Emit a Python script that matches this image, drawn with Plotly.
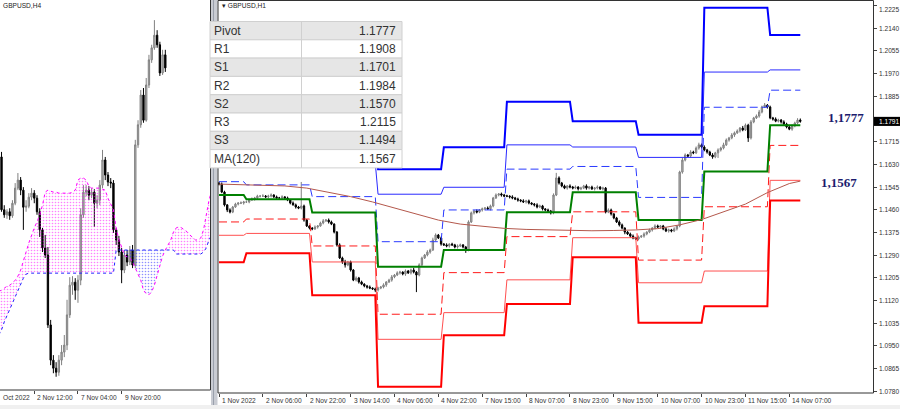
import plotly.graph_objects as go

W, H = 900, 409

# ---------------- Left panel: GBPUSD,H4 (bar index 0 = 28 Oct 20:00) ----------------
h4_first_bar = 4
h4_first_open = 1.1588
h4_close = [1.1483, 1.1473, 1.1479, 1.1471, 1.1496, 1.1526, 1.1542, 1.1522, 1.1488, 1.1490,
            1.1508, 1.1516, 1.1506, 1.1479, 1.1443, 1.1407, 1.1393, 1.1254, 1.1184, 1.1168,
            1.1160, 1.1184, 1.1200, 1.1214, 1.1274, 1.1333, 1.1339, 1.1323, 1.1343, 1.1473,
            1.1518, 1.1522, 1.1512, 1.1518, 1.1496, 1.1502, 1.1532, 1.1582, 1.1552, 1.1538,
            1.1536, 1.1443, 1.1423, 1.1399, 1.1363, 1.1393, 1.1379, 1.1403, 1.1373, 1.1612,
            1.1652, 1.1711, 1.1661, 1.1731, 1.1781, 1.1805, 1.1830, 1.1811, 1.1755, 1.1791,
            1.1765]
h4_high = [1.1598, 1.1492, 1.1484, 1.1486, 1.1502, 1.1536, 1.1556, 1.1548, 1.1528, 1.1502,
           1.1516, 1.1526, 1.1522, 1.1512, 1.1486, 1.1447, 1.1433, 1.1409, 1.1264, 1.1194,
           1.1180, 1.1194, 1.1214, 1.1234, 1.1304, 1.1349, 1.1351, 1.1347, 1.1353, 1.1486,
           1.1532, 1.1532, 1.1530, 1.1526, 1.1524, 1.1512, 1.1542, 1.1602, 1.1588, 1.1558,
           1.1546, 1.1542, 1.1447, 1.1431, 1.1407, 1.1403, 1.1403, 1.1411, 1.1413, 1.1622,
           1.1661, 1.1721, 1.1725, 1.1745, 1.1791, 1.1811, 1.1860, 1.1840, 1.1817, 1.1801,
           1.1801]
h4_low = [1.1479, 1.1467, 1.1465, 1.1463, 1.1467, 1.1492, 1.1522, 1.1512, 1.1443, 1.1479,
          1.1486, 1.1502, 1.1496, 1.1473, 1.1429, 1.1399, 1.1387, 1.1248, 1.1174, 1.1158,
          1.1151, 1.1153, 1.1174, 1.1190, 1.1204, 1.1268, 1.1314, 1.1304, 1.1298, 1.1333,
          1.1467, 1.1510, 1.1502, 1.1506, 1.1449, 1.1486, 1.1492, 1.1526, 1.1542, 1.1530,
          1.1526, 1.1437, 1.1413, 1.1391, 1.1337, 1.1357, 1.1371, 1.1373, 1.1367, 1.1367,
          1.1606, 1.1646, 1.1656, 1.1658, 1.1725, 1.1775, 1.1801, 1.1805, 1.1749, 1.1751,
          1.1757]

cloud_first_bar = 3
span_a = [1.1321, 1.1323, 1.1327, 1.1331, 1.1333, 1.1337, 1.1343, 1.1351, 1.1363, 1.1379,
          1.1399, 1.1417, 1.1433, 1.1447, 1.1459, 1.1473, 1.1492, 1.1518, 1.1522, 1.1520,
          1.1518, 1.1518, 1.1516, 1.1516, 1.1516, 1.1516, 1.1516, 1.1518, 1.1522, 1.1542,
          1.1546, 1.1546, 1.1542, 1.1530, 1.1526, 1.1526, 1.1526, 1.1526, 1.1524, 1.1522,
          1.1506, 1.1496, 1.1483, 1.1447, 1.1423, 1.1409, 1.1393, 1.1389, 1.1387, 1.1379,
          1.1367, 1.1353, 1.1343, 1.1323, 1.1316, 1.1314, 1.1320, 1.1333, 1.1353, 1.1373,
          1.1391, 1.1403, 1.1413, 1.1423, 1.1439, 1.1447, 1.1449, 1.1447, 1.1443, 1.1439,
          1.1433, 1.1427, 1.1423, 1.1423, 1.1427, 1.1443, 1.1473, 1.1502, 1.1522]
span_b = [1.1234, 1.1244, 1.1260, 1.1272, 1.1284, 1.1298, 1.1310, 1.1323, 1.1335, 1.1347,
          1.1355, 1.1357, 1.1357, 1.1357, 1.1357, 1.1357, 1.1357, 1.1357, 1.1357, 1.1357,
          1.1357, 1.1357, 1.1357, 1.1357, 1.1357, 1.1357, 1.1357, 1.1357, 1.1357, 1.1357,
          1.1357, 1.1357, 1.1357, 1.1357, 1.1357, 1.1357, 1.1357, 1.1357, 1.1357, 1.1357,
          1.1357, 1.1357, 1.1357, 1.1403, 1.1403, 1.1403, 1.1403, 1.1403, 1.1403, 1.1403,
          1.1403, 1.1403, 1.1403, 1.1403, 1.1403, 1.1403, 1.1403, 1.1403, 1.1403, 1.1403,
          1.1403, 1.1403, 1.1403, 1.1403, 1.1403, 1.1395, 1.1395, 1.1395, 1.1395, 1.1395,
          1.1395, 1.1395, 1.1395, 1.1395, 1.1395, 1.1399, 1.1407, 1.1423, 1.1433]

h4_tick_bars = [0, 16, 32, 48]
h4_tick_labels = ["Oct 2022", "2 Nov 12:00", "7 Nov 04:00", "9 Nov 20:00"]

# ---------------- Right panel: GBPUSD,H1 (bar index 0 = 1 Nov 14:00) ----------------
h1_first_open = 1.1560
h1_close = [
    # 1 Nov
    1.1556, 1.1526, 1.1478, 1.1459, 1.1451, 1.1470, 1.1481, 1.1485, 1.1485, 1.1489,
    # 2 Nov
    1.1489, 1.1496, 1.1500, 1.1504, 1.1511, 1.1511, 1.1511, 1.1508, 1.1511, 1.1515,
    1.1508, 1.1504, 1.1504, 1.1508, 1.1504, 1.1496, 1.1485, 1.1478, 1.1470, 1.1466,
    1.1474, 1.1421, 1.1399, 1.1391,
    # 3 Nov
    1.1388, 1.1395, 1.1399, 1.1410, 1.1418, 1.1421, 1.1414, 1.1406, 1.1376, 1.1328,
    1.1279, 1.1264, 1.1253, 1.1264, 1.1234, 1.1196, 1.1204, 1.1189, 1.1181, 1.1174,
    1.1170, 1.1166, 1.1163, 1.1159,
    # 4 Nov
    1.1166, 1.1170, 1.1178, 1.1189, 1.1196, 1.1208, 1.1215, 1.1223, 1.1226, 1.1219,
    1.1230, 1.1223, 1.1234, 1.1226, 1.1215, 1.1253, 1.1279, 1.1290, 1.1301, 1.1309,
    1.1346, 1.1365, 1.1354, 1.1331,
    # 7 Nov
    1.1328, 1.1324, 1.1331, 1.1328, 1.1320, 1.1324, 1.1328, 1.1320, 1.1309, 1.1414,
    1.1448, 1.1455, 1.1451, 1.1459, 1.1463, 1.1466, 1.1463, 1.1474, 1.1504, 1.1515,
    1.1519, 1.1515, 1.1511,
    # 8 Nov
    1.1511, 1.1508, 1.1504, 1.1500, 1.1496, 1.1493, 1.1489, 1.1493, 1.1485, 1.1481,
    1.1478, 1.1470, 1.1474, 1.1463, 1.1459, 1.1455, 1.1448, 1.1515, 1.1579, 1.1560,
    1.1549, 1.1541, 1.1549, 1.1545,
    # 9 Nov
    1.1541, 1.1545, 1.1538, 1.1541, 1.1549, 1.1541, 1.1545, 1.1538, 1.1541, 1.1545,
    1.1538, 1.1541, 1.1451, 1.1459, 1.1444, 1.1429, 1.1414, 1.1403, 1.1391, 1.1376,
    1.1369, 1.1361, 1.1354, 1.1350,
    # 10 Nov
    1.1358, 1.1361, 1.1369, 1.1376, 1.1384, 1.1391, 1.1399, 1.1395, 1.1399, 1.1388,
    1.1380, 1.1384, 1.1380, 1.1388, 1.1399, 1.1601, 1.1646, 1.1665, 1.1661, 1.1676,
    1.1673, 1.1691, 1.1703, 1.1695,
    # 11 Nov
    1.1684, 1.1676, 1.1665, 1.1658, 1.1673, 1.1684, 1.1691, 1.1703, 1.1721, 1.1729,
    1.1740, 1.1748, 1.1755, 1.1766, 1.1759, 1.1777, 1.1729, 1.1789, 1.1804, 1.1811,
    1.1826, 1.1845, 1.1852, 1.1845,
    # 14 Nov
    1.1804, 1.1800, 1.1792, 1.1796, 1.1789, 1.1781, 1.1770, 1.1762, 1.1774, 1.1785,
    1.1796, 1.1791,
]
# upper / lower shadow lengths in pips
h1_wick_up = [
    4, 6, 5, 3, 6, 4, 5, 3, 6, 4,
    5, 3, 6, 4, 5, 3, 7, 4, 5, 6, 3, 5, 4, 6, 3, 5, 4, 6, 5, 4, 90, 5, 4, 3,
    4, 6, 3, 5, 7, 4, 6, 5, 3, 4, 6, 5, 8, 4, 5, 3, 6, 4, 5, 3, 4, 6, 3, 5,
    5, 4, 6, 3, 5, 7, 4, 6, 5, 3, 6, 4, 5, 8, 4, 6, 5, 4, 7, 5, 9, 6, 4, 5,
    4, 6, 3, 5, 4, 6, 5, 3, 4, 6, 5, 4, 6, 3, 5, 4, 6, 5, 4, 6, 3, 5, 4,
    5, 3, 6, 4, 5, 3, 6, 4, 5, 3, 4, 6, 5, 4, 3, 5, 4, 6, 19, 6, 4, 5, 3, 6,
    4, 6, 3, 5, 4, 6, 3, 5, 4, 6, 3, 5, 4, 6, 5, 3, 4, 6, 5, 3, 4, 5, 6, 4,
    5, 4, 6, 3, 5, 4, 6, 5, 3, 4, 6, 5, 4, 6, 3, 5, 8, 6, 4, 7, 5, 6, 8, 5,
    6, 4, 5, 7, 4, 6, 5, 8, 6, 4, 7, 5, 6, 4, 8, 6, 5, 7, 4, 6, 8, 5, 8, 4,
    5, 4, 6, 5, 4, 6, 5, 4, 6, 5, 7, 6,
]
h1_wick_dn = [
    5, 4, 6, 8, 5, 4, 3, 5, 4, 6,
    4, 5, 3, 6, 4, 5, 3, 4, 6, 5, 4, 3, 5, 4, 6, 4, 5, 3, 6, 4, 5, 6, 4, 5,
    5, 4, 6, 3, 5, 4, 6, 4, 5, 6, 4, 7, 10, 5, 6, 4, 5, 6, 4, 5, 6, 4, 4, 8,
    6, 4, 5, 7, 4, 6, 5, 4, 6, 5, 7, 4, 6, 5, 64, 5, 6, 4, 5, 6, 4, 5, 4, 6,
    4, 5, 6, 4, 5, 6, 4, 5, 11, 5, 4, 6, 5, 4, 6, 5, 4, 6, 5, 4, 5, 6, 4,
    4, 6, 5, 4, 6, 5, 4, 6, 5, 4, 6, 5, 4, 6, 5, 4, 6, 5, 4, 6, 5, 4, 6, 5,
    5, 4, 6, 5, 4, 6, 5, 4, 6, 5, 4, 6, 5, 4, 6, 5, 4, 6, 5, 8, 4, 6, 5, 4,
    5, 4, 6, 5, 4, 6, 5, 4, 6, 5, 4, 6, 5, 4, 6, 5, 6, 5, 4, 6, 5, 4, 6, 5,
    5, 6, 4, 7, 5, 19, 6, 5, 4, 6, 5, 7, 4, 6, 5, 4, 15, 6, 5, 4, 6, 5, 4, 6,
    5, 6, 4, 5, 6, 7, 5, 4, 6, 5, 4, 5,
]

# daily classic pivot levels (1, 2, 3, 4, 7, 8, 9, 10, 11, 14 Nov)
day_bars = [10, 24, 24, 24, 23, 24, 24, 24, 24, 12]
piv_R3 = [1.1716, 1.1681, 1.1694, 1.1612, 1.1694, 1.1865, 1.1792, 1.1741, 1.2217, 1.2115]
piv_R2 = [1.1666, 1.1627, 1.1634, 1.1518, 1.1544, 1.1703, 1.1695, 1.1656, 1.1976, 1.1984]
piv_R1 = [1.1565, 1.1553, 1.1509, 1.1340, 1.1459, 1.1612, 1.1622, 1.1506, 1.1844, 1.1908]
piv_P = [1.1515, 1.1499, 1.1449, 1.1246, 1.1309, 1.1450, 1.1525, 1.1421, 1.1603, 1.1777]
piv_S1 = [1.1414, 1.1425, 1.1324, 1.1068, 1.1224, 1.1359, 1.1452, 1.1271, 1.1471, 1.1701]
piv_S2 = [1.1364, 1.1371, 1.1264, 1.0974, 1.1074, 1.1197, 1.1355, 1.1186, 1.1230, 1.1570]
piv_S3 = [1.1263, 1.1297, 1.1139, 1.0796, 1.0989, 1.1106, 1.1282, 1.1036, 1.1098, 1.1494]

ma_bars = [0, 8, 16, 24, 32, 40, 48, 56, 64, 72, 80, 88, 96, 104, 112, 120, 128, 136,
           144, 152, 160, 168, 176, 184, 192, 200, 208, 212]
ma_vals = [1.1556, 1.1554, 1.1553, 1.1549, 1.1541, 1.1526, 1.1509, 1.1489, 1.1466, 1.1444,
           1.1421, 1.1406, 1.1397, 1.1390, 1.1386, 1.1384, 1.1382, 1.1381, 1.1382, 1.1384,
           1.1389, 1.1403, 1.1423, 1.1451, 1.1481, 1.1524, 1.1558, 1.1567]

h1_tick_labels = ["1 Nov 2022", "2 Nov 06:00", "2 Nov 22:00", "3 Nov 14:00", "4 Nov 06:00",
                  "4 Nov 22:00", "7 Nov 15:00", "8 Nov 07:00", "8 Nov 23:00", "9 Nov 15:00",
                  "10 Nov 07:00", "10 Nov 23:00", "11 Nov 15:00", "14 Nov 07:00"]
h1_tick_bars = [0, 16, 32, 48, 64, 80, 96, 112, 128, 144, 160, 176, 192, 208]
price_ticks = [1.2225, 1.2140, 1.2055, 1.1970, 1.1885, 1.1715, 1.1630, 1.1545, 1.1460,
               1.1375, 1.1290, 1.1205, 1.1120, 1.1035, 1.0950, 1.0865, 1.0780]
current_price = 1.1791

table_names = ["Pivot", "R1", "S1", "R2", "S2", "R3", "S3", "MA(120)"]
table_values = ["1.1777", "1.1908", "1.1701", "1.1984", "1.1570", "1.2115", "1.1494", "1.1567"]
level_labels = ["1,1777", "1,1567"]
level_label_prices = [1.1777, 1.1567]

assert len(h4_close) == len(h4_high) == len(h4_low)
assert len(span_a) == len(span_b)
assert len(h1_close) == len(h1_wick_up) == len(h1_wick_dn) == sum(day_bars)

# ---------------- helpers ----------------
def PX(x):
    return x / W


def PY(y):
    return 1 - y / H


FONT = "Liberation Sans"
fig = go.Figure()

# ---------------- Left panel traces ----------------
h4_x = list(range(h4_first_bar, h4_first_bar + len(h4_close)))
h4_open = [h4_first_open] + h4_close[:-1]

cloud_x = list(range(cloud_first_bar, cloud_first_bar + len(span_a)))


def cloud_regions(xs, a, b):
    regions = []
    cur = None
    sx, sa, sb = [], [], []
    for k in range(len(xs)):
        s = a[k] >= b[k]
        if cur is None:
            cur = s
        elif s != cur:
            d0 = a[k - 1] - b[k - 1]
            d1 = a[k] - b[k]
            t = d0 / (d0 - d1)
            xc = xs[k - 1] + t * (xs[k] - xs[k - 1])
            yc = a[k - 1] + t * (a[k] - a[k - 1])
            sx.append(xc); sa.append(yc); sb.append(yc)
            regions.append((cur, sx, sa, sb))
            sx, sa, sb = [xc], [yc], [yc]
            cur = s
        sx.append(xs[k]); sa.append(a[k]); sb.append(b[k])
    regions.append((cur, sx, sa, sb))
    return regions


for up, sx, sa, sb in cloud_regions(cloud_x, span_a, span_b):
    col = "#ff00ff" if up else "#2020ff"
    fig.add_trace(go.Scatter(
        x=sx + sx[::-1], y=sa + sb[::-1], xaxis="x", yaxis="y",
        mode="lines", line=dict(width=0), fill="toself",
        fillcolor="rgba(0,0,0,0)",
        fillpattern=dict(shape=".", fgcolor=col, bgcolor="rgba(0,0,0,0)", size=3, solidity=0.22),
        hoverinfo="skip", showlegend=False))

fig.add_trace(go.Scatter(x=cloud_x, y=span_a, xaxis="x", yaxis="y", mode="lines",
                         line=dict(color="#ff00ff", width=1, dash="dot"), showlegend=False))
fig.add_trace(go.Scatter(x=cloud_x, y=span_b, xaxis="x", yaxis="y", mode="lines",
                         line=dict(color="#2020ff", width=1, dash="dot"), showlegend=False))

candle_style = dict(
    increasing=dict(line=dict(color="#808080", width=1), fillcolor="#b8b8b8"),
    decreasing=dict(line=dict(color="#000000", width=1), fillcolor="#000000"),
    whiskerwidth=0, showlegend=False, hoverinfo="skip")

fig.add_trace(go.Candlestick(x=h4_x, open=h4_open, high=h4_high, low=h4_low, close=h4_close,
                             xaxis="x", yaxis="y", **candle_style))

# ---------------- Right panel traces ----------------
n1 = len(h1_close)
h1_x = list(range(n1))
h1_open = [h1_first_open] + h1_close[:-1]
h1_high = [max(o, c) + w * 0.0001 for o, c, w in zip(h1_open, h1_close, h1_wick_up)]
h1_low = [min(o, c) - w * 0.0001 for o, c, w in zip(h1_open, h1_close, h1_wick_dn)]


def per_bar(levels):
    out = []
    for v, n in zip(levels, day_bars):
        out += [v] * n
    return out


level_specs = [
    (piv_R3, dict(color="#0000ff", width=2)),
    (piv_R2, dict(color="#2a2aff", width=1)),
    (piv_R1, dict(color="#2a3aff", width=1, dash="8px,4px")),
    (piv_S1, dict(color="#ff1a1a", width=1, dash="8px,4px")),
    (piv_S2, dict(color="#ff5050", width=1)),
    (piv_S3, dict(color="#ff0000", width=2)),
    (piv_P, dict(color="#008000", width=2)),
]
for lv, ln in level_specs:
    fig.add_trace(go.Scatter(x=h1_x, y=per_bar(lv), xaxis="x2", yaxis="y2", mode="lines",
                             line=ln, hoverinfo="skip", showlegend=False))

fig.add_trace(go.Scatter(x=ma_bars, y=ma_vals, xaxis="x2", yaxis="y2", mode="lines",
                         line=dict(color="#b4584c", width=1), hoverinfo="skip", showlegend=False))

fig.add_trace(go.Candlestick(x=h1_x, open=h1_open, high=h1_high, low=h1_low, close=h1_close,
                             xaxis="x2", yaxis="y2", **candle_style))

# ---------------- Axes ----------------
L_PX0, L_PX1, L_PY1 = 0, 210, 390
R_PX0, R_PX1, R_PY0, R_PY1 = 218, 873, 1, 393

# left: bar j at px -9.4 + 2.73 j ; price p at py (1.1900 - p) / 0.0001988
lx_range = [(L_PX0 + 9.4) / 2.73, (L_PX1 + 9.4) / 2.73]
ly_range = [1.1900 - 0.0001988 * L_PY1, 1.1900]
# right: bar i at px 219 + 2.742 i ; price p at py (1.22461 - p) / 0.0003749
rx_range = [(R_PX0 - 219) / 2.742, (R_PX1 - 219) / 2.742]
ry_range = [1.22461 - 0.0003749 * R_PY1, 1.22461 - 0.0003749 * R_PY0]

fig.update_layout(
    width=W, height=H, margin=dict(l=0, r=0, t=0, b=0), autosize=False,
    paper_bgcolor="white", plot_bgcolor="white", showlegend=False,
    xaxis=dict(domain=[PX(L_PX0), PX(L_PX1)], range=lx_range, showgrid=False, zeroline=False,
               showticklabels=False, tickvals=h4_tick_bars[1:], ticks="outside", ticklen=3,
               tickcolor="#444", rangeslider=dict(visible=False), fixedrange=True),
    yaxis=dict(domain=[PY(L_PY1), 1], range=ly_range, showgrid=False, zeroline=False,
               showticklabels=False, ticks="", fixedrange=True),
    xaxis2=dict(domain=[PX(R_PX0), PX(R_PX1)], range=rx_range, anchor="y2", showgrid=False,
                zeroline=False, showticklabels=False, tickvals=h1_tick_bars, ticks="outside",
                ticklen=3, tickcolor="#444", rangeslider=dict(visible=False), fixedrange=True),
    yaxis2=dict(domain=[PY(R_PY1), PY(R_PY0)], range=ry_range, anchor="x2", side="right",
                showgrid=False, zeroline=False, tickvals=price_ticks, showticklabels=False,
                ticks="outside", ticklen=3, tickcolor="#444", fixedrange=True),
)

shapes = []
ann = []

# panel frames / separator
shapes.append(dict(type="line", xref="paper", yref="paper", x0=PX(210.5), x1=PX(210.5),
                   y0=PY(0), y1=PY(L_PY1), line=dict(color="#333", width=1), layer="above"))
shapes.append(dict(type="line", xref="paper", yref="paper", x0=PX(0), x1=PX(210.5),
                   y0=PY(L_PY1), y1=PY(L_PY1), line=dict(color="#333", width=1), layer="above"))
shapes.append(dict(type="rect", xref="paper", yref="paper", x0=PX(211), x1=PX(217.5),
                   y0=PY(409), y1=PY(0), fillcolor="#c9ccd3", line=dict(width=0), layer="above"))
shapes.append(dict(type="line", xref="paper", yref="paper", x0=PX(213.5), x1=PX(213.5),
                   y0=PY(405), y1=PY(0), line=dict(color="#9aa0ac", width=1), layer="above"))
shapes.append(dict(type="rect", xref="paper", yref="paper", x0=PX(R_PX0), x1=PX(R_PX1 + 0.5),
                   y0=PY(R_PY1), y1=PY(R_PY0 - 0.5), line=dict(color="#333", width=1),
                   fillcolor="rgba(0,0,0,0)", layer="above"))
shapes.append(dict(type="rect", xref="paper", yref="paper", x0=0, x1=1, y0=0, y1=PY(405),
                   fillcolor="#f0f0f0", line=dict(width=0), layer="above"))

# price scale labels (right side)
for k, v in enumerate(price_ticks):
    ann.append(dict(xref="paper", yref="y2", x=PX(877), y=v, xanchor="left", yanchor="middle",
                    yshift=-3.5 if k == 0 else 0, text="%.4f" % v, showarrow=False,
                    font=dict(family=FONT, size=6.6, color="#333")))

# left time labels
for b, t in zip(h4_tick_bars, h4_tick_labels):
    px = -9.4 + 2.73 * b
    ann.append(dict(xref="paper", yref="paper", x=PX(max(px, 0) + 1), y=PY(397),
                    xanchor="left", yanchor="middle", text=t, showarrow=False,
                    font=dict(family=FONT, size=6.6, color="#333")))
# right time labels
for b, t in zip(h1_tick_bars, h1_tick_labels):
    ann.append(dict(xref="x2", yref="paper", x=b, y=PY(400), xanchor="left", yanchor="middle",
                    xshift=1, text=t, showarrow=False,
                    font=dict(family=FONT, size=6.6, color="#333")))

# chart titles
ann.append(dict(xref="paper", yref="paper", x=PX(1), y=PY(6), xanchor="left", yanchor="middle",
                text="GBPUSD,H4", showarrow=False, font=dict(family=FONT, size=6.6, color="#222")))
ann.append(dict(xref="paper", yref="paper", x=PX(220), y=PY(6), xanchor="left", yanchor="middle",
                text="\u25BE GBPUSD,H1", showarrow=False,
                font=dict(family=FONT, size=6.6, color="#222")))

# table
T_X0, T_X1, T_XM, T_Y0, T_RH = 210, 402, 301.5, 21.5, 18.3
for r, (nm, val) in enumerate(zip(table_names, table_values)):
    y0 = T_Y0 + r * T_RH
    y1 = y0 + T_RH
    shapes.append(dict(type="rect", xref="paper", yref="paper", x0=PX(T_X0), x1=PX(T_X1),
                       y0=PY(y1), y1=PY(y0), fillcolor="#e6e6e6" if r % 2 == 0 else "#ffffff",
                       line=dict(color="#d0d0d0", width=1), layer="above"))
    ann.append(dict(xref="paper", yref="paper", x=PX(T_X0 + 2), y=PY((y0 + y1) / 2),
                    xanchor="left", yanchor="middle", text=nm, showarrow=False,
                    font=dict(family=FONT, size=12, color="#333")))
    ann.append(dict(xref="paper", yref="paper", x=PX(T_X1 - 4), y=PY((y0 + y1) / 2),
                    xanchor="right", yanchor="middle", text=val, showarrow=False,
                    font=dict(family=FONT, size=12, color="#333")))
shapes.append(dict(type="line", xref="paper", yref="paper", x0=PX(T_XM), x1=PX(T_XM),
                   y0=PY(T_Y0 + 8 * T_RH), y1=PY(T_Y0), line=dict(color="#d0d0d0", width=1),
                   layer="above"))

# level labels near the right edge
for txt, p, xc, dy in zip(level_labels, level_label_prices, [845.5, 839], [-8, 1]):
    ann.append(dict(xref="paper", yref="y2", x=PX(xc), y=p, xanchor="center", yanchor="middle",
                    yshift=-dy, text="<b>%s</b>" % txt, showarrow=False,
                    font=dict(family="Liberation Serif", size=13, color="#1c1c6e")))

# current price box
shapes.append(dict(type="rect", xref="paper", yref="y2", x0=PX(874), x1=PX(900),
                   y0=current_price - 0.0017, y1=current_price + 0.0017,
                   fillcolor="#000000", line=dict(width=0), layer="above"))
ann.append(dict(xref="paper", yref="y2", x=PX(877), y=current_price, xanchor="left",
                yanchor="middle", text="%.4f" % current_price, showarrow=False,
                font=dict(family=FONT, size=6.6, color="#ffffff")))

fig.update_layout(shapes=shapes, annotations=ann)
fig.write_html("out.html", config={"displayModeBar": False},
               post_script="document.body.style.margin='0px';")
